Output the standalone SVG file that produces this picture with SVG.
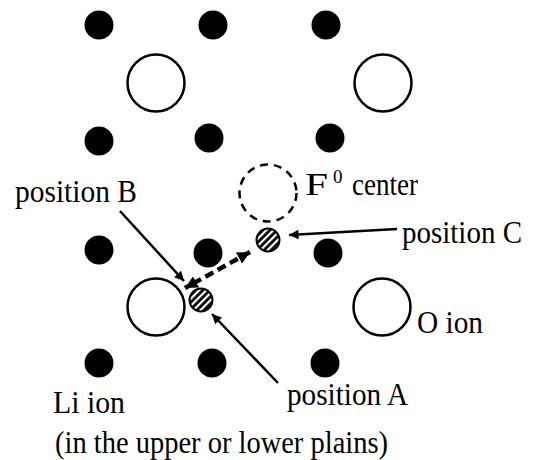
<svg xmlns="http://www.w3.org/2000/svg" width="534" height="460" viewBox="0 0 534 460">
<style>
.li{fill:#000}
.o{fill:#fff;stroke:#000;stroke-width:2.5}
.f{fill:none;stroke:#000;stroke-width:2.5;stroke-dasharray:8 6}
.h{fill:url(#hatch);stroke:#000;stroke-width:2}
.arr{stroke:#000;stroke-width:2.5;fill:none;marker-end:url(#ah)}
.darr{stroke:#000;stroke-width:4.5;fill:none;stroke-dasharray:9 5;marker-end:url(#ah2);marker-start:url(#ah2s)}
</style>
<defs>
<pattern id="hatch" width="5" height="5" patternUnits="userSpaceOnUse" patternTransform="rotate(45)">
<rect width="5" height="5" fill="#000"/>
<rect width="2.2" height="5" fill="#fff"/>
</pattern>
<marker id="ah" viewBox="0 0 10 10" refX="10" refY="5" markerWidth="5.4" markerHeight="3.8" orient="auto" markerUnits="strokeWidth">
<path d="M0,0 L10,5 L0,10 z" fill="#000"/>
</marker>
<marker id="ah2" viewBox="0 0 10 10" refX="10" refY="5" markerWidth="2.8" markerHeight="2.8" orient="auto" markerUnits="strokeWidth">
<path d="M0,0 L10,5 L0,10 z" fill="#000"/>
</marker>
<marker id="ah2s" viewBox="0 0 10 10" refX="10" refY="5" markerWidth="2.8" markerHeight="2.8" orient="auto-start-reverse" markerUnits="strokeWidth">
<path d="M0,0 L10,5 L0,10 z" fill="#000"/>
</marker>
</defs>
<g id="li-ions">
<circle class="li" cx="99" cy="25" r="14.5"/>
<circle class="li" cx="213" cy="25" r="14.5"/>
<circle class="li" cx="326" cy="25" r="14.5"/>
<circle class="li" cx="99" cy="141" r="14.5"/>
<circle class="li" cx="209" cy="138" r="14.5"/>
<circle class="li" cx="330" cy="138" r="14.5"/>
<circle class="li" cx="99" cy="250" r="14.5"/>
<circle class="li" cx="208" cy="253" r="14.5"/>
<circle class="li" cx="328" cy="253" r="14.5"/>
<circle class="li" cx="99" cy="363" r="14.5"/>
<circle class="li" cx="212" cy="363" r="14.5"/>
<circle class="li" cx="325" cy="363" r="14.5"/>
</g>
<g id="o-ions">
<circle class="o" cx="156" cy="83" r="28.5"/>
<circle class="o" cx="383" cy="83" r="28.5"/>
<circle class="o" cx="156" cy="307" r="28.5"/>
<circle class="o" cx="382" cy="307" r="28.5"/>
</g>
<g id="f-center">
<circle class="f" cx="268" cy="193" r="28.5"/>
</g>
<g id="pos-c">
<circle class="h" cx="268" cy="240" r="11.5"/>
</g>
<g id="pos-a">
<circle class="h" cx="201" cy="300" r="11.5"/>
</g>
<g id="connectors">
<line class="darr" x1="250" y1="252" x2="185" y2="288"/>
<line class="arr" x1="120" y1="211" x2="184" y2="281"/>
<line class="arr" x1="278" y1="383" x2="212" y2="314"/>
<line class="arr" x1="397" y1="229" x2="289" y2="235"/>
</g>
<g id="labels" font-family="Liberation Serif, serif" font-size="31" fill="#000">
<text x="15" y="202" textLength="122" lengthAdjust="spacingAndGlyphs">position B</text>
<text x="305" y="195" textLength="23" lengthAdjust="spacingAndGlyphs">F</text>
<text x="333" y="183" font-size="19">0</text>
<text x="352" y="195" textLength="66" lengthAdjust="spacingAndGlyphs">center</text>
<text x="402" y="243" textLength="120" lengthAdjust="spacingAndGlyphs">position C</text>
<text x="417" y="333" textLength="66" lengthAdjust="spacingAndGlyphs">O ion</text>
<text x="287" y="405" textLength="121" lengthAdjust="spacingAndGlyphs">position A</text>
<text x="53" y="413" textLength="72" lengthAdjust="spacingAndGlyphs">Li ion</text>
<text x="55" y="453" textLength="333" lengthAdjust="spacingAndGlyphs">(in the upper or lower plains)</text>
</g>
</svg>
